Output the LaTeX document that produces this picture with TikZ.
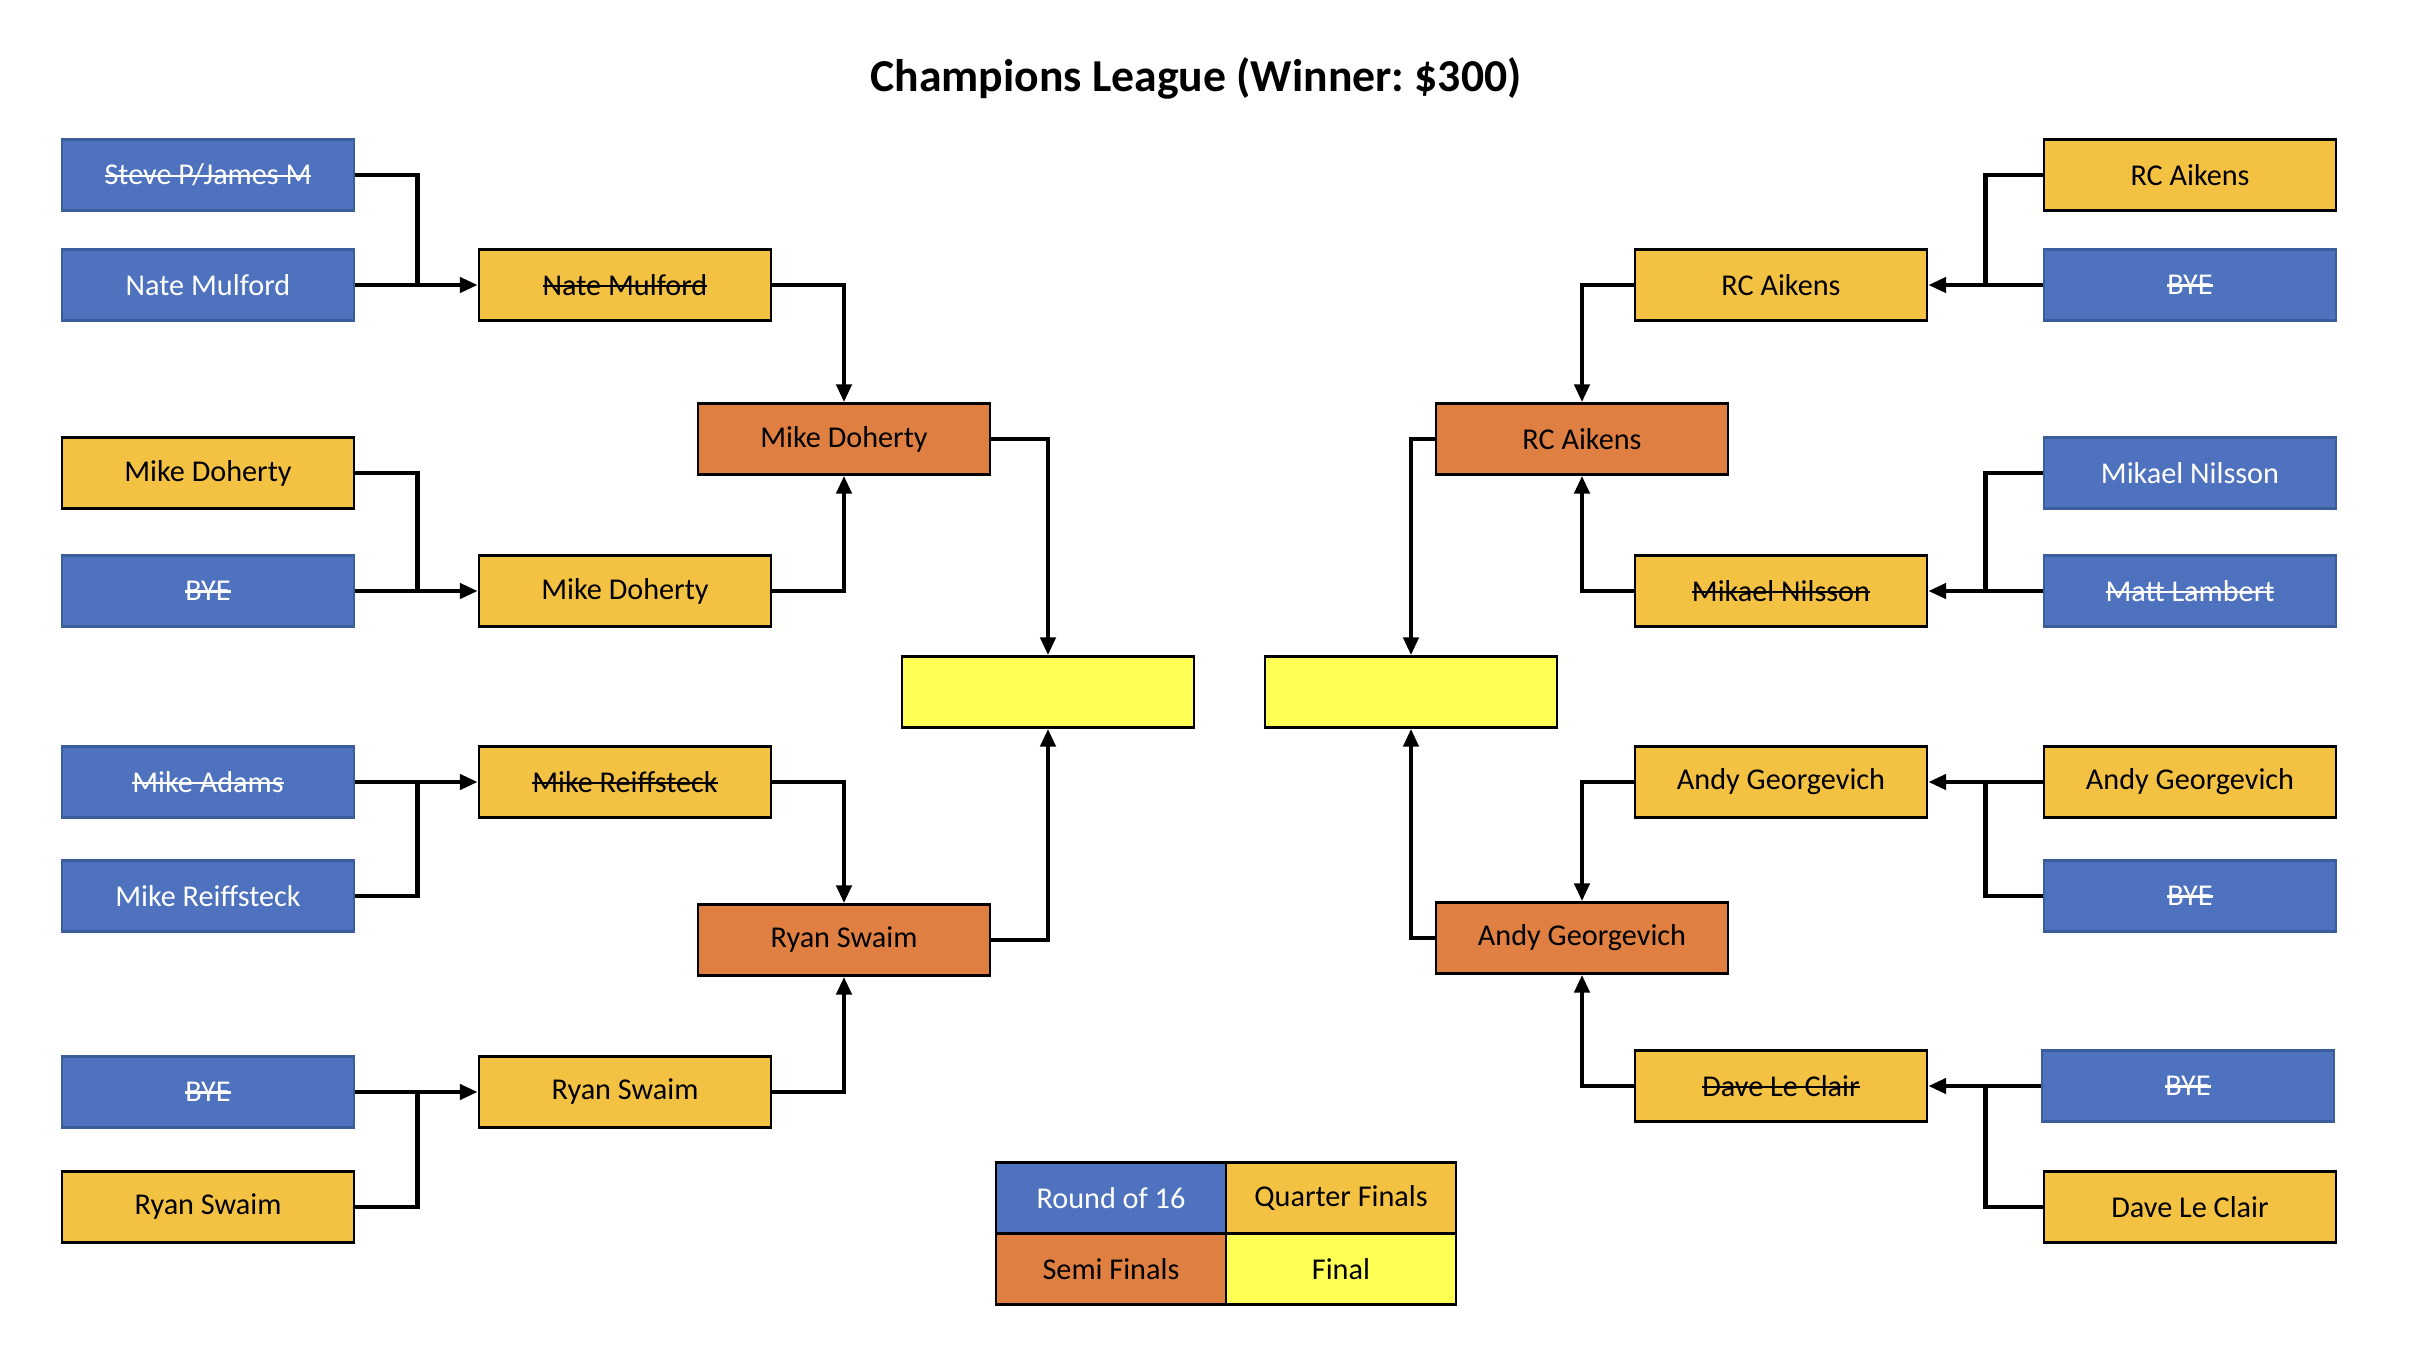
\documentclass[tikz,border=0pt]{standalone}
\usepackage{fontspec}
\setmainfont{Carlito}
\usetikzlibrary{arrows.meta,positioning}
\definecolor{bracketblue}{HTML}{4E72BE}
\definecolor{bracketedge}{HTML}{3A5D9C}
\definecolor{bracketgold}{HTML}{F4C243}
\definecolor{bracketorange}{HTML}{DF8042}
\definecolor{bracketyellow}{HTML}{FFFF55}
\newsavebox{\strikebox}
\newcommand{\struck}[1]{\sbox{\strikebox}{#1}\rlap{\usebox{\strikebox}}\rule[.55ex]{\wd\strikebox}{.65pt}}
\frenchspacing

\begin{document}
\begin{tikzpicture}[x=1cm,y=1cm,
    slot/.style={minimum width=2.92cm,minimum height=.71cm,inner sep=0pt,line width=.7pt,
      font=\fontsize{8.6}{10}\selectfont},
    roundslot/.style={slot,fill=bracketblue,draw=bracketedge,text=white},
    quarterslot/.style={slot,fill=bracketgold,draw=black},
    semislot/.style={slot,fill=bracketorange,draw=black},
    finalslot/.style={slot,fill=bracketyellow,draw=black},
    keyslot/.style={minimum width=2.30cm,outer sep=0pt},
    wire/.style={line width=1.3pt},
    feed/.style={wire,-{Triangle[length=1.8mm,width=1.5mm]}}]
    \useasboundingbox (0,0) rectangle (24.32,-13.5);
    \node[font=\fontsize{13}{15}\selectfont\bfseries] (title) at (11.96,-.78)
      {Champions League (Winner: \$300)};
    % left half
    \node[roundslot] (leftSixteen1) at (2.08,-1.75) {\struck{Steve P/James M}};
    \node[roundslot] (leftSixteen2) at (2.08,-2.85) {Nate Mulford};
    \node[quarterslot] (leftSixteen3) at (2.08,-4.73) {Mike Doherty};
    \node[roundslot] (leftSixteen4) at (2.08,-5.91) {\struck{BYE}};
    \node[roundslot] (leftSixteen5) at (2.08,-7.82) {\struck{Mike Adams}};
    \node[roundslot] (leftSixteen6) at (2.08,-8.96) {Mike Reiffsteck};
    \node[roundslot] (leftSixteen7) at (2.08,-10.92) {\struck{BYE}};
    \node[quarterslot] (leftSixteen8) at (2.08,-12.07) {Ryan Swaim};
    \node[quarterslot] (leftQuarter1) at (6.25,-2.85) {\struck{Nate Mulford}};
    \node[quarterslot] (leftQuarter2) at (6.25,-5.91) {Mike Doherty};
    \node[quarterslot] (leftQuarter3) at (6.25,-7.82) {\struck{Mike Reiffsteck}};
    \node[quarterslot] (leftQuarter4) at (6.25,-10.92) {Ryan Swaim};
    \node[semislot] (leftSemi1) at (8.44,-4.39) {Mike Doherty};
    \node[semislot] (leftSemi2) at (8.44,-9.40) {Ryan Swaim};
    \node[finalslot] (leftFinal) at (10.48,-6.92) {};
    % right half
    \node[finalslot] (rightFinal) at (14.11,-6.92) {};
    \node[semislot] (rightSemi1) at (15.82,-4.39) {RC Aikens};
    \node[semislot] (rightSemi2) at (15.82,-9.38) {Andy Georgevich};
    \node[quarterslot] (rightQuarter1) at (17.81,-2.85) {RC Aikens};
    \node[quarterslot] (rightQuarter2) at (17.81,-5.91) {\struck{Mikael Nilsson}};
    \node[quarterslot] (rightQuarter3) at (17.81,-7.82) {Andy Georgevich};
    \node[quarterslot] (rightQuarter4) at (17.81,-10.86) {\struck{Dave Le Clair}};
    \node[quarterslot] (rightSixteen1) at (21.90,-1.75) {RC Aikens};
    \node[roundslot] (rightSixteen2) at (21.90,-2.85) {\struck{BYE}};
    \node[roundslot] (rightSixteen3) at (21.90,-4.73) {Mikael Nilsson};
    \node[roundslot] (rightSixteen4) at (21.90,-5.91) {\struck{Matt Lambert}};
    \node[quarterslot] (rightSixteen5) at (21.90,-7.82) {Andy Georgevich};
    \node[roundslot] (rightSixteen6) at (21.90,-8.96) {\struck{BYE}};
    \node[roundslot] (rightSixteen7) at (21.88,-10.86) {\struck{BYE}};
    \node[quarterslot] (rightSixteen8) at (21.90,-12.07) {Dave Le Clair};
    % legend
    \node[roundslot,keyslot,draw=black] (keyRound) at (11.11,-11.98) {Round of 16};
    \node[quarterslot,keyslot,right=0pt of keyRound] (keyQuarter) {Quarter Finals};
    \node[semislot,keyslot,below=0pt of keyRound] (keySemi) {Semi Finals};
    \node[finalslot,keyslot,right=0pt of keySemi] (keyFinal) {Final};
    % round of 16 -> quarter finals
    \foreach \loser/\winner/\next in {1/2/1,3/4/2,6/5/3,8/7/4} {
      \draw[wire] (leftSixteen\loser.east) -- ++(.62,0) |- (leftSixteen\winner.east);
      \draw[feed] (leftSixteen\winner.east) -- (leftQuarter\next.west);
      \draw[wire] (rightSixteen\loser.west) -- ++(-.57,0) |- (rightSixteen\winner.west);
      \draw[feed] (rightSixteen\winner.west) -- (rightQuarter\next.east);
    }
    % quarter finals -> semi finals -> final
    \foreach \q/\s/\side in {1/1/north,2/1/south,3/2/north,4/2/south} {
      \draw[feed] (leftQuarter\q.east) -| (leftSemi\s.\side);
      \draw[feed] (rightQuarter\q.west) -| (rightSemi\s.\side);
    }
    \draw[feed] (leftSemi1.east) -| (leftFinal.north);
    \draw[feed] (leftSemi2.east) -| (leftFinal.south);
    \draw[feed] (rightSemi1.west) -| (rightFinal.north);
    \draw[feed] (rightSemi2.west) -| (rightFinal.south);
  \end{tikzpicture}
\end{document}
